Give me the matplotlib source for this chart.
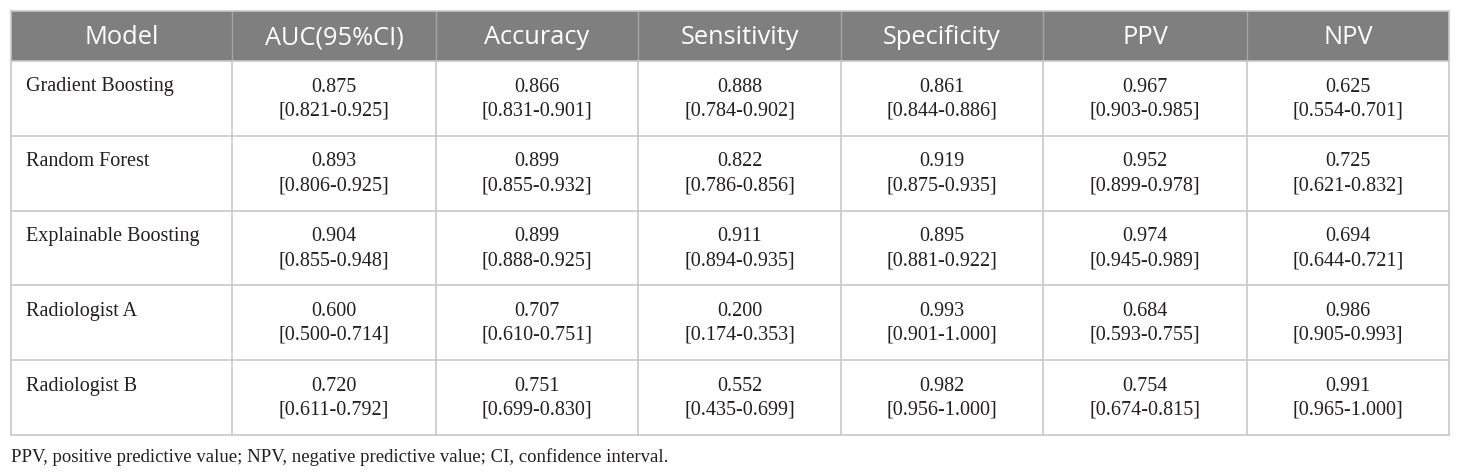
import matplotlib
matplotlib.use("Agg")
import matplotlib.pyplot as plt
from matplotlib.patches import Rectangle

# table content
headers = ["Model", "AUC(95%CI)", "Accuracy", "Sensitivity",
           "Specificity", "PPV", "NPV"]
models = ["Gradient Boosting", "Random Forest", "Explainable Boosting",
          "Radiologist A", "Radiologist B"]
auc = ["0.875", "0.893", "0.904", "0.600", "0.720"]
auc_ci = ["0.821-0.925", "0.806-0.925", "0.855-0.948", "0.500-0.714", "0.611-0.792"]
accuracy = ["0.866", "0.899", "0.899", "0.707", "0.751"]
accuracy_ci = ["0.831-0.901", "0.855-0.932", "0.888-0.925", "0.610-0.751", "0.699-0.830"]
sensitivity = ["0.888", "0.822", "0.911", "0.200", "0.552"]
sensitivity_ci = ["0.784-0.902", "0.786-0.856", "0.894-0.935", "0.174-0.353", "0.435-0.699"]
specificity = ["0.861", "0.919", "0.895", "0.993", "0.982"]
specificity_ci = ["0.844-0.886", "0.875-0.935", "0.881-0.922", "0.901-1.000", "0.956-1.000"]
ppv = ["0.967", "0.952", "0.974", "0.684", "0.754"]
ppv_ci = ["0.903-0.985", "0.899-0.978", "0.945-0.989", "0.593-0.755", "0.674-0.815"]
npv = ["0.625", "0.725", "0.694", "0.986", "0.991"]
npv_ci = ["0.554-0.701", "0.621-0.832", "0.644-0.721", "0.905-0.993", "0.965-1.000"]
footnote = "PPV, positive predictive value; NPV, negative predictive value; CI, confidence interval."

metrics = [(auc, auc_ci), (accuracy, accuracy_ci), (sensitivity, sensitivity_ci),
           (specificity, specificity_ci), (ppv, ppv_ci), (npv, npv_ci)]

# layout in pixels
W, H = 1460, 475
col_edges = [11, 232, 436, 638, 841, 1043, 1247, 1449]
top, head_bottom = 11, 61
row_h = 74.8
line_col = '#c8c8c8'
head_col = '#7f7f7f'
text_col = '#231f20'

fig = plt.figure(figsize=(W / 100, H / 100), dpi=100)
ax = fig.add_axes([0, 0, 1, 1])
ax.set_xlim(0, W)
ax.set_ylim(H, 0)
ax.axis('off')

n_rows = len(models)
bottom = head_bottom + n_rows * row_h

# header band
ax.add_patch(Rectangle((col_edges[0], top), col_edges[-1] - col_edges[0],
                       head_bottom - top, facecolor=head_col, edgecolor='none'))
for j, h in enumerate(headers):
    cx = (col_edges[j] + col_edges[j + 1]) / 2
    ax.text(cx, (top + head_bottom) / 2 + 2, h, ha='center', va='center',
            color='white', fontsize=18.3, family='Open Sans')

# grid lines
for x in col_edges:
    if x in (col_edges[0], col_edges[-1]):
        ax.plot([x, x], [top, bottom], color=line_col, lw=1.2)
    else:
        ax.plot([x, x], [top, head_bottom], color='#a6a6a6', lw=1.0)
        ax.plot([x, x], [head_bottom, bottom], color=line_col, lw=1.2)
ax.plot([col_edges[0], col_edges[-1]], [top, top], color=line_col, lw=1.2)
for i in range(n_rows + 1):
    y = head_bottom + i * row_h
    ax.plot([col_edges[0], col_edges[-1]], [y, y], color=line_col, lw=1.2)

# body
for i, m in enumerate(models):
    y0 = head_bottom + i * row_h
    ax.text(col_edges[0] + 15, y0 + 26, m, ha='left', va='center',
            color=text_col, fontsize=14.5, family='Liberation Serif')
    for j, (vals, cis) in enumerate(metrics):
        cx = (col_edges[j + 1] + col_edges[j + 2]) / 2
        ax.text(cx, y0 + 26, vals[i], ha='center', va='center',
                color=text_col, fontsize=14.5, family='Liberation Serif')
        ax.text(cx, y0 + 50, f"[{cis[i]}]", ha='center', va='center',
                color=text_col, fontsize=14.5, family='Liberation Serif')

ax.text(col_edges[0], 457, footnote, ha='left', va='center',
        color=text_col, fontsize=13.5, family='Liberation Serif')

fig.savefig('out.png', dpi=100)
